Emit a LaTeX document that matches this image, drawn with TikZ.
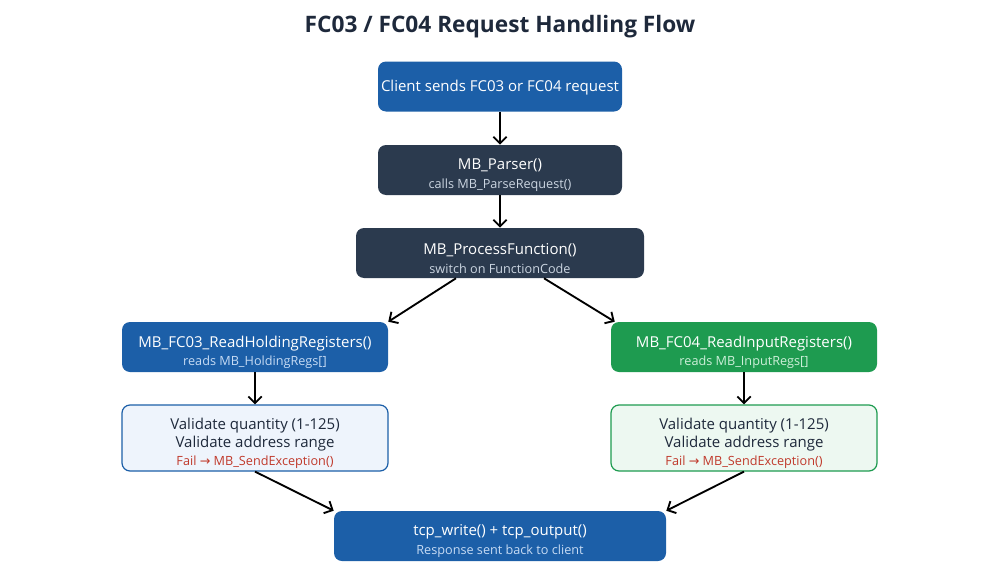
\documentclass[tikz,border=0pt]{standalone}
\usepackage{fontspec}
\setmainfont{Open Sans}
\newfontfamily\arrowfont{DejaVu Sans}
\usetikzlibrary{arrows.meta}
\definecolor{flowblue}{HTML}{1C5FA8}
\definecolor{flowdark}{HTML}{2B3A4E}
\definecolor{flowgreen}{HTML}{1E9B50}
\definecolor{subblue}{HTML}{C6DBF4}
\definecolor{subdark}{HTML}{CBD5E1}
\definecolor{subgreen}{HTML}{CDEFD9}
\definecolor{lightblue}{HTML}{EEF4FC}
\definecolor{lightgreen}{HTML}{EDF8F1}
\definecolor{textdark}{HTML}{1E293B}
\definecolor{failred}{HTML}{C0392B}

\tikzset{
  box/.style={rounded corners=6pt, minimum height=37.5pt, align=flush center,
    inner xsep=0pt, inner ysep=2pt, text width=#1, minimum width=#1,
    font=\fontsize{11.25}{14}\selectfont},
  bluebox/.style={box=#1, fill=flowblue, text=white},
  darkbox/.style={box=#1, fill=flowdark, text=white},
  greenbox/.style={box=#1, fill=flowgreen, text=white},
  checkbox/.style={box=#1, minimum height=49.5pt, text=textdark, line width=0.9pt},
  flow/.style={-{Straight Barb[length=5pt,width=10pt]}, line width=1.4pt}
}
% main line + smaller second line, nudged down a little
\newcommand{\twoline}[3]{#1\\{\fontsize{9.5}{11}\selectfont\color{#2}#3}\par\vspace{-8pt}}
\newcommand{\failline}{{\fontsize{9.5}{11}\selectfont\color{failred}Fail {\arrowfont→} MB\_SendException()}}

\begin{document}
\begin{tikzpicture}[x=0.75pt,y=-0.75pt]
  \useasboundingbox (0,0) rectangle (1000,578);
  \node[font=\fontsize{17}{20}\selectfont\bfseries, text=textdark] (title) at (500,27) {FC03 / FC04 Request Handling Flow};

  \node[bluebox=183pt] (client) at (500,86.5) {Client sends FC03 or FC04 request\par\vspace{-2pt}};
  \node[darkbox=183pt] (parser) at (500,170) {\twoline{MB\_Parser()}{subdark}{calls MB\_ParseRequest()}};
  \node[darkbox=216pt] (proc) at (500,253) {\twoline{MB\_ProcessFunction()}{subdark}{switch on FunctionCode}};

  \node[bluebox=199.5pt] (fc03) at (255,347) {\twoline{MB\_FC03\_ReadHoldingRegisters()}{subblue}{reads MB\_HoldingRegs[]}};
  \node[greenbox=199.5pt] (fc04) at (744,347) {\twoline{MB\_FC04\_ReadInputRegisters()}{subgreen}{reads MB\_InputRegs[]}};

  \node[checkbox=199.5pt, draw=flowblue, fill=lightblue] (chka) at (255,438)
    {Validate quantity (1-125)\\Validate address range\\[-1pt]\failline\par\vspace{-7.5pt}};
  \node[checkbox=199.5pt, draw=flowgreen, fill=lightgreen] (chkb) at (744,438)
    {Validate quantity (1-125)\\Validate address range\\[-1pt]\failline\par\vspace{-7.5pt}};

  \node[bluebox=249pt] (tcp) at (500,536) {\twoline{tcp\_write() + tcp\_output()}{subblue}{Response sent back to client}};

  \draw[flow] (client) -- (parser);
  \draw[flow] (parser) -- (proc);
  \draw[flow] ([xshift=-33pt]proc.south) -- (fc03.north east);
  \draw[flow] ([xshift=33pt]proc.south) -- ([xshift=3pt]fc04.north west);
  \draw[flow] (fc03) -- (chka);
  \draw[flow] (fc04) -- (chkb);
  \draw[flow] (chka.south) -- (tcp.north west);
  \draw[flow] (chkb.south) -- (tcp.north east);
\end{tikzpicture}
\end{document}
